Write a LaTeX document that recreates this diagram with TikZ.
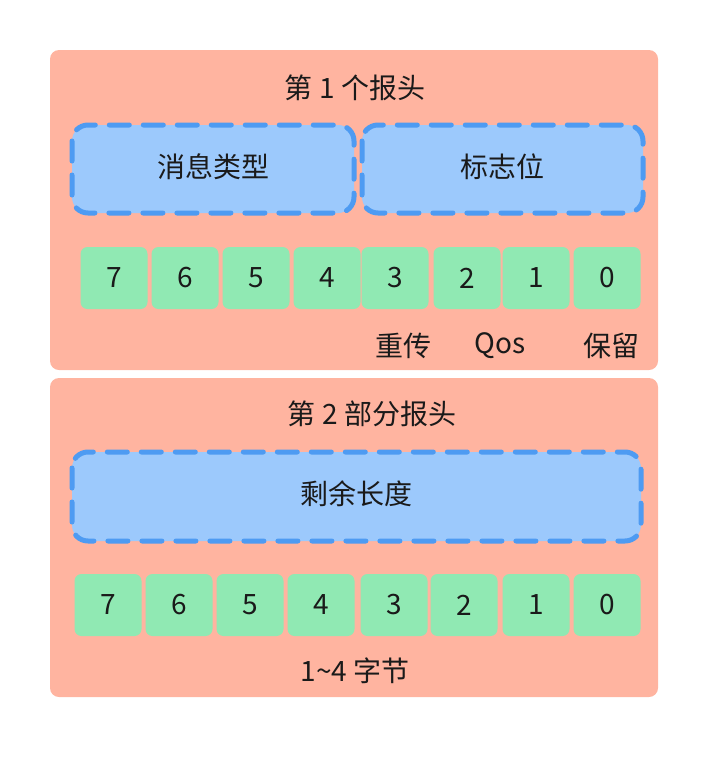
\documentclass[tikz,border=0pt]{standalone}
\usepackage{fontspec}
\setmainfont{Noto Sans CJK SC}
\usetikzlibrary{positioning}
\definecolor{panelred}{HTML}{FFB4A0}
\definecolor{fieldblue}{HTML}{9CC9FC}
\definecolor{dashblue}{HTML}{4E9BF2}
\definecolor{bitgreen}{HTML}{90E9B3}
\definecolor{textgray}{HTML}{1A1A1A}

\begin{document}
\begin{tikzpicture}[x=1pt, y=-1pt, font=\fontsize{28}{32}\selectfont, text=textgray]
\tikzset{
  panel/.style={fill=panelred, rounded corners=9pt},
  field/.style={draw=dashblue, fill=fieldblue, line width=5pt, line cap=round, dash pattern=on 20pt off 14pt, rounded corners=16pt},
  bit/.style={fill=bitgreen, rounded corners=7pt, minimum width=67pt, minimum height=62pt, inner sep=0pt},
}
\useasboundingbox (0,0) rectangle (709,758);

% first header
\fill[panel] (50,50) rectangle (658,370);
\node (title-1) at (355,88) {第 1 个报头};
\draw[field] (72,125) rectangle (354,213);
\node (type) at (213,167) {消息类型};
\draw[field] (362,125) rectangle (643,213);
\node (flag) at (502,167) {标志位};
\foreach \b/\x in {7/114,6/185,5/256,4/327,3/395,2/467,1/536,0/607}
  \node [bit] (first-\b) at (\x,278) {\b};
\node (dup) at (403,346) {重传};
\node (qos) at (500,346) {Qos};
\node (retain) at (611,346) {保留};

% second header
\fill[panel] (50,378) rectangle (658,697);
\node (title-2) at (372,414) {第 2 部分报头};
\draw[field] (72,452) rectangle (641,541);
\node (length) at (356,494) {剩余长度};
\foreach \b/\x in {7/108,6/179,5/250,4/321,3/394,2/464,1/536,0/607}
  \node [bit] (second-\b) at (\x,605) {\b};
\node (bytes) at (355,671) {1\textasciitilde4 字节};
\end{tikzpicture}
\end{document}
